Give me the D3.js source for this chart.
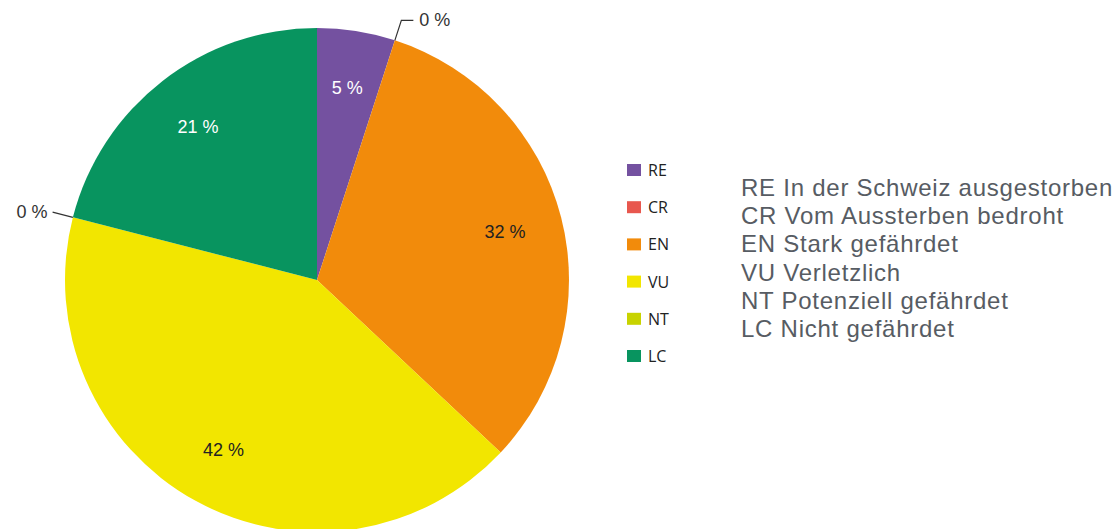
<!DOCTYPE html>
<html>
<head>
<meta charset="utf-8">
<script src="https://cdn.jsdelivr.net/npm/d3@7"></script>
<style>
  html, body { margin: 0; padding: 0; background: #fff; }
</style>
</head>
<body>
<svg id="chart" width="1117" height="529"></svg>
<script>
const codes = ["RE", "CR", "EN", "VU", "NT", "LC"];
const values = [5, 0, 32, 42, 0, 21];
const colors = ["#7451a0", "#e8574e", "#f28b0b", "#f2e600", "#c8d300", "#08945f"];
const labelColors = ["#ffffff", "#333333", "#222222", "#222222", "#333333", "#ffffff"];
const descriptions = [
  "RE In der Schweiz ausgestorben",
  "CR Vom Aussterben bedroht",
  "EN Stark gefährdet",
  "VU Verletzlich",
  "NT Potenziell gefährdet",
  "LC Nicht gefährdet"
];

const svg = d3.select("#chart");

const cx = 317, cy = 280, radius = 252;
const labelRadius = 194;
const leaderRadius = 273;

const g = svg.append("g").attr("transform", `translate(${cx},${cy})`);

const pie = d3.pie().sort(null).value(d => d.value);
const data = codes.map((c, i) => ({ code: c, value: values[i], i }));
const arcs = pie(data);

const arc = d3.arc().innerRadius(0).outerRadius(radius);
const labelArc = d3.arc().innerRadius(labelRadius).outerRadius(labelRadius);

g.selectAll("path.slice")
  .data(arcs)
  .enter()
  .append("path")
  .attr("class", "slice")
  .attr("d", arc)
  .attr("fill", d => colors[d.data.i]);

// labels inside the slices
g.selectAll("text.inner")
  .data(arcs.filter(d => d.data.value > 0))
  .enter()
  .append("text")
  .attr("class", "inner")
  .attr("transform", d => `translate(${labelArc.centroid(d)})`)
  .attr("text-anchor", "middle")
  .attr("dominant-baseline", "central")
  .attr("font-family", "Liberation Sans, Arial, sans-serif")
  .attr("font-size", 18)
  .attr("fill", d => labelColors[d.data.i])
  .text(d => d.data.value + " %");

// zero slices get a leader line and an outside label
const pointAt = (angle, r) => [r * Math.sin(angle), -r * Math.cos(angle)];

arcs.filter(d => d.data.value === 0).forEach(d => {
  const a = d.startAngle;
  const p0 = pointAt(a, radius);
  const p1 = pointAt(a, leaderRadius);
  const right = Math.sin(a) > 0;
  const p2 = right ? [p1[0] + 12, p1[1]] : p1;
  g.append("polyline")
    .attr("points", [p0, p1, p2].map(p => p.join(",")).join(" "))
    .attr("fill", "none")
    .attr("stroke", "#333")
    .attr("stroke-width", 1.2);
  g.append("text")
    .attr("x", right ? p2[0] + 6 : p2[0] - 5)
    .attr("y", p2[1])
    .attr("text-anchor", right ? "start" : "end")
    .attr("dominant-baseline", "central")
    .attr("font-family", "Liberation Sans, Arial, sans-serif")
    .attr("font-size", 18)
    .attr("fill", "#333")
    .text(d.data.value + " %");
});

// legend with colour squares
const legendY = d3.scalePoint().domain(codes).range([170, 356]);
const legend = svg.append("g");
legend.selectAll("rect")
  .data(codes)
  .enter()
  .append("rect")
  .attr("x", 627)
  .attr("y", c => legendY(c) - 6)
  .attr("width", 14)
  .attr("height", 12)
  .attr("fill", (c, i) => colors[i]);
legend.selectAll("text")
  .data(codes)
  .enter()
  .append("text")
  .attr("x", 648)
  .attr("y", c => legendY(c))
  .attr("dominant-baseline", "central")
  .attr("font-family", "Open Sans, sans-serif")
  .attr("font-size", 16)
  .attr("fill", "#222")
  .text(c => c);

// descriptions
const descY = d3.scalePoint().domain(descriptions).range([196, 337]);
svg.append("g").selectAll("text")
  .data(descriptions)
  .enter()
  .append("text")
  .attr("x", 741)
  .attr("y", d => descY(d))
  .attr("font-family", "Liberation Sans, Arial, sans-serif")
  .attr("font-size", 24)
  .attr("letter-spacing", 0.75)
  .attr("fill", "#575c63")
  .text(d => d);
</script>
</body>
</html>
